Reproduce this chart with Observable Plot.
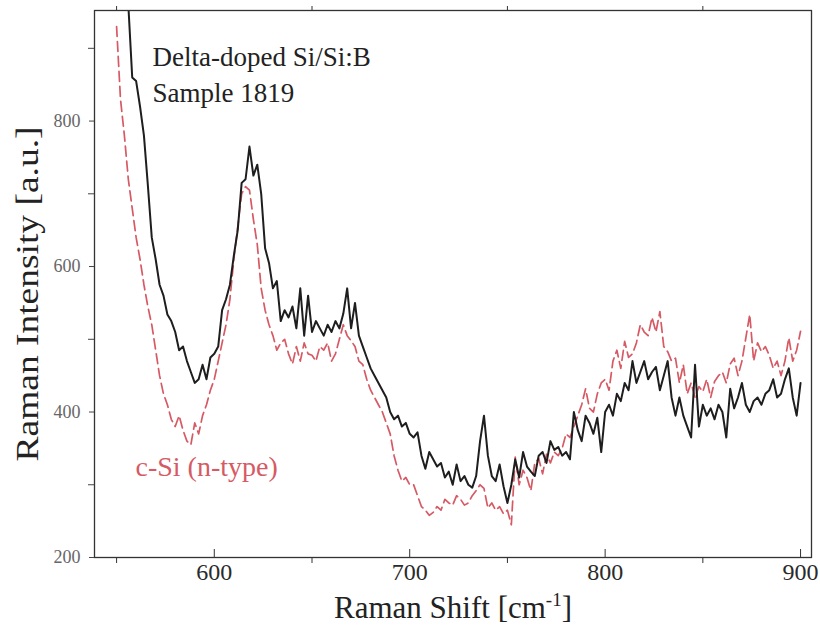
<!DOCTYPE html>
<html>
<head>
<meta charset="utf-8">
<script src="https://cdn.jsdelivr.net/npm/d3@7"></script>
<script src="https://cdn.jsdelivr.net/npm/@observablehq/plot@0.6"></script>
<style>
  html, body { margin: 0; padding: 0; background: #fff; }
  #chart svg { display: block; }
</style>
</head>
<body>
<div id="chart"></div>
<script>
// Raman shift grid (cm^-1)
const shift = [550,552,554,556,558,560,562,564,566,568,570,572,574,576,578,580,582,584,586,588,
590,592,594,596,598,600,602,604,606,608,610,612,614,616,618,620,622,624,626,628,
630,632,634,636,638,640,642,644,646,648,650,652,654,656,658,660,662,664,666,668,
670,672,674,676,678,680,682,684,686,688,690,692,694,696,698,700,702,704,706,708,
710,712,714,716,718,720,722,724,726,728,730,732,734,736,738,740,742,744,746,748,
750,752,754,756,758,760,762,764,766,768,770,772,774,776,778,780,782,784,786,788,
790,792,794,796,798,800,802,804,806,808,810,812,814,816,818,820,822,824,826,828,
830,832,834,836,838,840,842,844,846,848,850,852,854,856,858,860,862,864,866,868,
870,872,874,876,878,880,882,884,886,888,890,892,894,896,898,900];

// Delta-doped Si/Si:B, sample 1819 (solid black)
const deltaDoped = [1000,1000,1000,960,860,855,820,780,712,640,610,575,560,534,525,510,485,490,470,455,
440,445,465,445,475,480,490,540,555,575,615,650,715,720,765,725,740,700,625,605,
570,580,525,540,530,545,515,570,505,560,510,525,515,505,520,510,525,515,535,570,
515,550,505,490,475,460,450,440,430,420,400,390,395,380,385,370,365,372,340,322,
345,335,325,330,310,318,300,328,305,312,300,296,312,360,395,340,312,305,328,298,
275,300,335,310,345,325,318,312,340,345,330,360,348,352,340,345,335,400,375,360,
395,385,370,392,345,400,410,395,425,415,440,430,470,440,455,470,445,455,462,430,
450,470,420,395,420,395,380,365,465,380,410,395,405,390,410,400,365,432,405,420,
440,410,400,415,420,410,425,430,445,420,425,445,460,420,395,440];

// c-Si (n-type) reference (dashed red)
const cSi = [930,830,780,720,680,640,610,575,545,520,485,450,425,410,390,380,395,375,360,355,
385,370,395,410,430,445,470,495,520,555,610,655,700,710,705,665,630,570,540,520,
505,485,495,500,480,466,490,470,495,480,478,470,490,485,495,470,480,500,520,505,
498,490,470,465,445,430,420,410,400,385,370,340,320,305,310,300,300,285,270,265,
258,262,270,265,280,275,272,285,280,272,275,285,292,300,295,268,275,265,270,260,
265,245,338,300,320,310,292,330,336,315,342,330,345,340,350,370,365,380,395,410,
432,405,400,425,440,445,430,470,485,460,497,475,480,495,520,510,505,530,510,538,
490,483,470,474,440,465,425,440,420,435,428,445,420,442,450,455,440,466,474,450,
470,502,534,470,495,483,490,478,460,470,450,470,502,470,485,511];

const xMajor = [600, 700, 800, 900];
const xMinor = [550, 650, 750, 850];
const yMajor = [200, 400, 600, 800];
const yMinor = [300, 500, 700, 900];

const sampleLabel = "Delta-doped Si/Si:B\nSample 1819";
const refLabel = "c-Si (n-type)";
const xTitle = "Raman Shift [cm-1]";
const yTitle = "Raman Intensity [a.u.]";

const blackData = shift.map((s, i) => ({shift: s, value: deltaDoped[i]}));
const redData = shift.map((s, i) => ({shift: s, value: cSi[i]}));

const red = "#d65a64";
const serif = "'Liberation Serif', 'Times New Roman', serif";

const chart = Plot.plot({
  width: 820,
  height: 629,
  marginLeft: 94,
  marginRight: 9,
  marginTop: 10,
  marginBottom: 72,
  style: {fontFamily: serif, background: "#fff"},
  x: {domain: [538.7, 905.6]},
  y: {domain: [200, 952]},
  marks: [
    Plot.line(redData, {x: "shift", y: "value", stroke: red, strokeWidth: 1.7, strokeDasharray: "10,5", clip: true}),
    Plot.line(blackData, {x: "shift", y: "value", stroke: "#1e1e1e", strokeWidth: 2, clip: true}),
    Plot.frame({stroke: "#333", strokeWidth: 1.3}),
    // x axis: labelled ticks pointing inward, minor ticks outward
    Plot.axisX(xMajor, {anchor: "bottom", tickSize: 0, tickPadding: 5, fontSize: 24, fill: "#2a2a2a", label: null}),
    Plot.axisX(xMajor, {anchor: "bottom", tickSize: -8, text: null, label: null, stroke: "#333"}),
    Plot.axisX(xMinor, {anchor: "bottom", tickSize: 6, text: null, label: null, stroke: "#333"}),
    Plot.axisX(xMinor, {anchor: "top", tickSize: 5, text: null, label: null, stroke: "#333"}),
    // y axis
    Plot.axisY(yMajor, {anchor: "left", tickSize: 5, tickPadding: 9, fontSize: 18, fill: "#666", label: null, stroke: "#444"}),
    Plot.axisY(yMinor, {anchor: "left", tickSize: 6, text: null, label: null, stroke: "#444"}),
    // titles
    Plot.text([xTitle], {text: d => d, frameAnchor: "bottom", textAnchor: "middle", dy: 60, lineAnchor: "bottom", fontSize: 31, fill: "#222"}),
    Plot.text([yTitle], {text: d => d, frameAnchor: "left", textAnchor: "middle", rotate: -90, dx: -57, dy: 10, lineAnchor: "bottom", fontSize: 31, fill: "#222"}),
    // annotations
    Plot.text([sampleLabel], {text: d => d, frameAnchor: "top-left", textAnchor: "start", dx: 58, dy: 31, lineAnchor: "top", lineHeight: 1.3, fontSize: 27, fill: "#222"}),
    Plot.text([refLabel], {text: d => d, frameAnchor: "bottom-left", textAnchor: "start", dx: 41, dy: -82, lineAnchor: "bottom", fontSize: 28, fill: red})
  ]
});

document.getElementById("chart").appendChild(chart);

// superscript in the x title, and the elongated y title of the original
d3.select(chart).selectAll("text").each(function() {
  const t = this.textContent;
  if (t === xTitle) {
    const sel = d3.select(this);
    sel.text(null);
    sel.append("tspan").text("Raman Shift [cm");
    sel.append("tspan").attr("font-size", "19").attr("dy", "-12").text("-1");
    sel.append("tspan").attr("dy", "12").text("]");
  }
  if (t === yTitle) {
    d3.select(this).attr("textLength", 335).attr("lengthAdjust", "spacingAndGlyphs");
  }
});
</script>
</body>
</html>
